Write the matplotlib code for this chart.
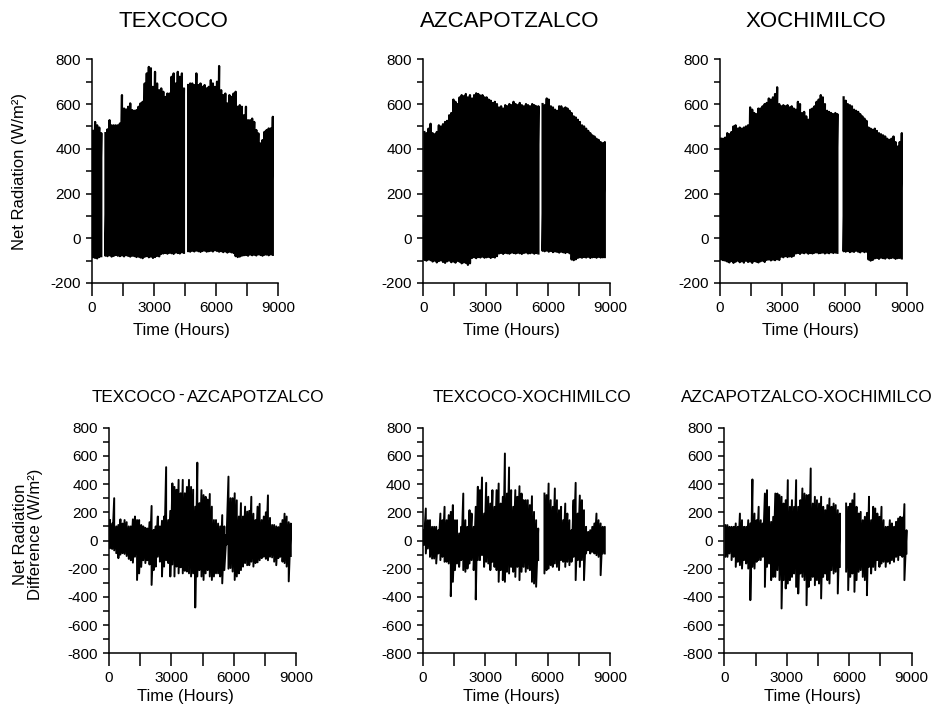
import numpy as np
import matplotlib
matplotlib.use("Agg")
import matplotlib.pyplot as plt
from matplotlib.ticker import MultipleLocator

plt.rcParams['font.family'] = ['Liberation Sans', 'DejaVu Sans']
plt.rcParams['axes.unicode_minus'] = False

nan = np.nan
# centre of each 100-hour window (hours)
hours = np.arange(50, 8800, 100)

# ---- Net radiation: max / min of each 100-h window (W/m2) ----
texcoco_max = [480,520,505,495,470,nan,470,487,528,505, 505,505,505,513,640,580,576,588,603,573,
               570,573,588,603,610,692,737,766,760,677, 744,692,662,670,655,632,647,647,722,737,
               692,744,722,737,670,nan,685,692,692,685, 737,685,692,677,685,670,677,707,692,677,
               700,770,662,640,647,603,640,632,647,655, 588,595,588,550,588,528,528,535,520,484,
               469,424,439,476,484,491,491,543]
texcoco_min = [-85,-88,-90,-84,-80,nan,-78,-80,-76,-82, -79,-75,-78,-80,-77,-81,-76,-79,-82,-78,
               -80,-84,-82,-86,-89,-83,-80,-85,-82,-88, -84,-79,-81,-70,-68,-66,-69,-65,-67,-70,
               -64,-66,-68,-63,-65,nan,-58,-60,-56,-59, -55,-58,-61,-57,-55,-60,-58,-56,-59,-54,
               -57,-60,-58,-62,-59,-64,-60,-63,-66,-80, -84,-82,-78,-76,-75,-78,-73,-76,-74,-77,
               -72,-75,-78,-74,-73,-76,-72,-74]

azcapotzalco_max = [475,470,490,512,470,465,475,505,500,510, 520,525,550,560,620,610,600,630,640,635,
                    645,630,640,625,640,648,645,638,640,630, 630,620,615,605,610,600,585,590,580,595,
                    590,600,595,610,600,595,605,595,590,600, 595,590,600,595,590,590,nan,600,595,625,
                    620,590,585,575,570,590,590,580,585,580, 570,560,545,540,530,520,505,500,490,480,
                    470,460,455,445,440,430,425,430]
azcapotzalco_min = [-97,-100,-95,-98,-104,-100,-108,-102,-99,-106, -110,-103,-100,-107,-104,-109,-101,-105,-112,-108,
                    -110,-119,-112,-88,-85,-89,-84,-86,-82,-87, -85,-83,-88,-84,-86,-80,-68,-66,-70,-65,
                    -67,-69,-64,-66,-68,-65,-67,-70,-66,-64, -68,-67,-65,-69,-66,-68,nan,-56,-58,-55,
                    -60,-57,-62,-59,-61,-64,-60,-63,-66,-62, -67,-95,-98,-94,-88,-85,-87,-84,-86,-83,
                    -88,-85,-84,-87,-83,-86,-85,-84]

xochimilco_max = [445,445,450,470,465,475,500,505,490,495, 490,495,500,505,585,575,560,555,580,580,
                  590,600,605,625,620,630,645,675,600,590, 595,590,595,585,590,580,575,610,600,560,
                  565,545,530,575,580,590,610,620,640,630, 600,570,565,560,555,560,555,nan,nan,630,
                  615,600,595,590,575,570,565,555,545,535, 525,495,490,485,490,480,470,465,460,455,
                  445,440,445,455,430,410,430,470]
xochimilco_min = [-95,-98,-100,-104,-108,-102,-110,-105,-100,-107, -103,-109,-101,-106,-104,-110,-102,-105,-108,-103,
                  -100,-106,-97,-95,-99,-96,-98,-94,-97,-82, -85,-80,-84,-81,-83,-79,-68,-66,-70,-65,
                  -67,-64,-69,-66,-68,-65,-63,-67,-66,-64, -68,-65,-67,-63,-66,-64,-65,nan,nan,-58,
                  -60,-57,-62,-59,-61,-56,-60,-63,-58,-62, -60,-95,-100,-97,-90,-88,-92,-87,-89,-91,
                  -86,-90,-88,-87,-92,-89,-88,-90]

# ---- Net radiation differences: max / min of each 100-h window (W/m2) ----
tex_azc_max = [145,120,300,100,110,150,120,145,130,100, 100,150,170,145,145,110,100,90,85,130,
               245,75,100,170,100,140,170,520,145,210, 405,380,360,430,335,430,335,380,430,380,
               360,240,552,265,357,322,310,290,330,240, 145,145,120,100,180,100,40,453,300,300,
               335,285,170,265,170,240,205,210,310,190, 145,240,260,145,170,200,320,160,110,110,
               100,95,120,145,190,170,130,120]
tex_azc_min = [-55,-60,-70,-90,-125,-100,-90,-95,-110,-130, -140,-157,-115,-280,-233,-187,-140,-160,-140,-170,
               -315,-210,-185,-115,-150,-255,-185,-140,-160,-255, -170,-255,-185,-233,-190,-233,-215,-220,-233,-255,
               -233,-475,-255,-210,-255,-280,-233,-210,-255,-280, -255,-233,-233,-255,-304,-210,-30,-200,-195,-220,
               -280,-255,-233,-210,-185,-160,-175,-175,-150,-185, -160,-155,-140,-125,-115,-130,-140,-115,-120,-150,
               -175,-125,-115,-150,-160,-185,-290,-110]

tex_xoc_max = [73,227,144,144,97,97,97,73,191,144, 239,144,180,203,251,144,144,50,97,333,
               144,97,215,191,97,239,381,357,447,191, 409,310,262,357,239,357,404,262,310,617,
               333,518,357,239,357,310,385,333,286,286, 286,251,314,203,144,85,nan,nan,333,322,
               404,286,239,369,286,215,239,144,262,191, 144,73,286,409,191,319,286,215,97,61,
               73,97,121,191,144,121,97,97]
tex_xoc_min = [-33,-92,-57,-116,-128,-128,-163,-92,-139,-116, -151,-151,-163,-395,-293,-210,-163,-187,-139,-210,
               -222,-199,-163,-139,-210,-418,-139,-139,-104,-187, -151,-163,-210,-151,-187,-210,-293,-210,-281,-293,
               -222,-234,-187,-222,-258,-187,-281,-222,-187,-222, -199,-210,-293,-305,-328,-139,nan,nan,-234,-210,
               -199,-175,-187,-163,-187,-210,-139,-151,-187,-151, -175,-151,-116,-281,-139,-187,-139,-281,-92,-69,
               -92,-80,-92,-104,-116,-246,-92,-92]

azc_xoc_max = [109,109,97,97,97,121,97,191,144,97, 97,144,121,433,191,144,239,144,121,333,
               357,239,132,168,333,333,322,310,262,286, 428,239,286,239,428,239,286,369,333,322,
               322,511,262,310,286,262,310,239,215,251, 298,239,262,251,215,191,nan,nan,262,239,
               262,286,333,239,191,203,144,168,196,310, 144,239,227,191,168,239,144,97,97,144,
               121,97,132,156,168,163,258,73]
azc_xoc_min = [-116,-116,-92,-139,-116,-187,-151,-175,-199,-139, -163,-199,-423,-187,-199,-151,-139,-139,-116,-329,
               -187,-163,-281,-258,-258,-210,-281,-482,-281,-340, -305,-281,-258,-234,-329,-376,-234,-258,-281,-459,
               -329,-281,-258,-317,-281,-305,-411,-258,-234,-281, -305,-210,-234,-222,-376,-187,nan,nan,-222,-352,
               -258,-234,-364,-281,-222,-210,-258,-281,-388,-187, -234,-187,-210,-139,-187,-163,-151,-187,-151,-163,
               -139,-151,-116,-139,-104,-116,-281,-92]

top_titles = ["TEXCOCO", "AZCAPOTZALCO", "XOCHIMILCO"]
bottom_titles = [None, "TEXCOCO-XOCHIMILCO", "AZCAPOTZALCO-XOCHIMILCO"]
top_series = [(texcoco_max, texcoco_min), (azcapotzalco_max, azcapotzalco_min), (xochimilco_max, xochimilco_min)]
bottom_series = [(tex_azc_max, tex_azc_min), (tex_xoc_max, tex_xoc_min), (azc_xoc_max, azc_xoc_min)]

W, H = 935, 711
fig = plt.figure(figsize=(W / 100, H / 100), dpi=100)


def add_ax(left, right, top, bottom):
    return fig.add_axes([left / W, 1 - bottom / H, (right - left) / W, (bottom - top) / H])


def style(ax, ylo, yhi, ypad):
    ax.set_xlim(0, 9000)
    ax.set_ylim(ylo, yhi)
    for s in ("top", "right"):
        ax.spines[s].set_visible(False)
    for s in ("left", "bottom"):
        ax.spines[s].set_linewidth(1.1)
    ax.xaxis.set_major_locator(MultipleLocator(3000))
    ax.xaxis.set_minor_locator(MultipleLocator(1500))
    ax.yaxis.set_major_locator(MultipleLocator(200))
    ax.yaxis.set_minor_locator(MultipleLocator(100))
    ax.tick_params(axis="x", which="both", direction="out", length=9, width=1.1, pad=4)
    ax.tick_params(axis="y", which="both", direction="out", length=4, width=1.1, pad=ypad)
    ax.tick_params(labelsize=11)


def envelope_line(hi, lo):
    x = np.repeat(hours, 2)
    y = np.column_stack([np.asarray(hi, float), np.asarray(lo, float)]).ravel()
    return x, y


def ftext(px, py, s, **kw):
    return fig.text(px / W, 1 - py / H, s, **kw)


top_lr = [(92, 278), (423.3, 610), (720, 907)]
bot_lr = [(109, 296), (422.7, 610), (724.3, 911.7)]
top_title_x = [173, 510, 816]
bot_title_x = [208, 532, 806.5]
top_xlabel_x = [181, 511, 810]
bot_xlabel_x = [185, 511, 812]

for k in range(3):
    ax = add_ax(top_lr[k][0], top_lr[k][1], 59.3, 283)
    x, y = envelope_line(*top_series[k])
    ax.plot(x, y, color="black", lw=1.6)
    style(ax, -200, 800, 4)
    ftext(top_title_x[k], 26.7, top_titles[k], ha="center", va="baseline", fontsize=16)
    ftext(top_xlabel_x[k], 331, "Time (Hours)", ha="center", va="center", fontsize=12)

    ax = add_ax(bot_lr[k][0], bot_lr[k][1], 427.7, 653.3)
    x, y = envelope_line(*bottom_series[k])
    ax.plot(x, y, color="black", lw=1.4)
    style(ax, -800, 800, 4)
    if bottom_titles[k] is not None:
        ftext(bot_title_x[k], 401.7, bottom_titles[k], ha="center", va="baseline", fontsize=12.3)
    ftext(bot_xlabel_x[k], 697, "Time (Hours)", ha="center", va="center", fontsize=12)

# first difference title, with its slightly raised dash
ftext(176, 401.7, "TEXCOCO", ha="right", va="baseline", fontsize=12.3)
ftext(181.5, 395.5, "-", ha="center", va="center", fontsize=12.3)
ftext(187, 401.7, "AZCAPOTZALCO", ha="left", va="baseline", fontsize=12.3)

ftext(20, 171, "Net Radiation (W/m\u00b2)", rotation=90, ha="center", va="center", fontsize=12)
ftext(28, 534, "Net Radiation\nDifference (W/m\u00b2)", rotation=90, ha="center", va="center",
      fontsize=12, multialignment="center", linespacing=1.05)

fig.savefig("out.png", dpi=100)
